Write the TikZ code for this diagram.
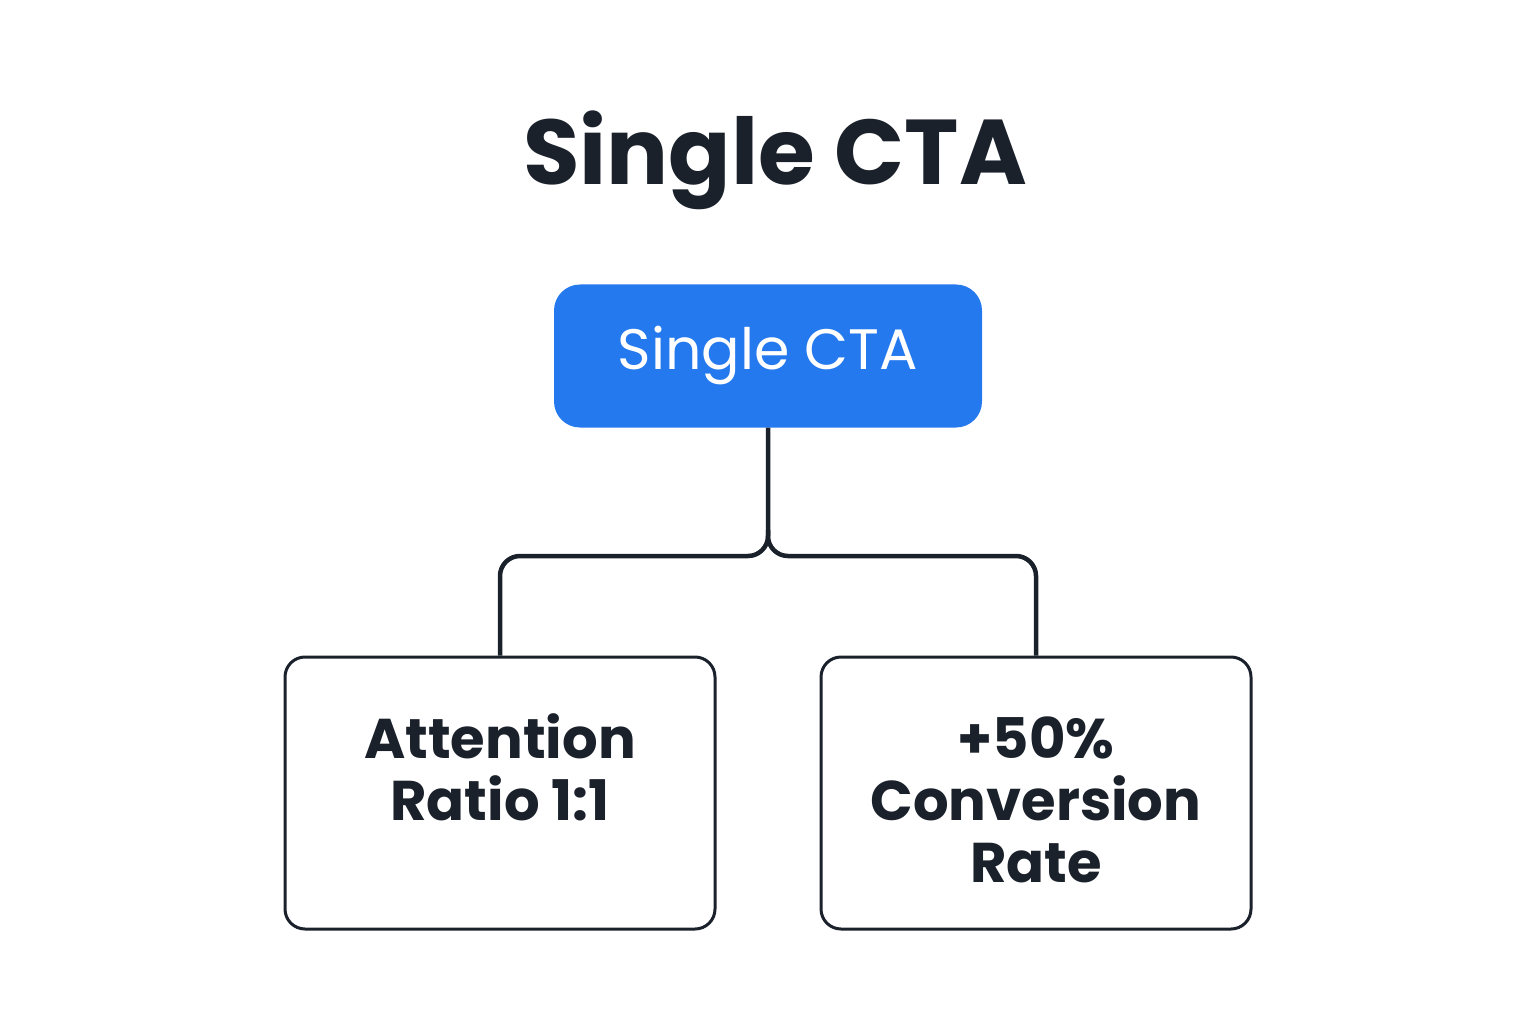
\documentclass[tikz,border=0pt]{standalone}
\usepackage{fontspec}
\setmainfont{Poppins}
\definecolor{ink}{HTML}{1B212B}
\definecolor{blu}{HTML}{2479EE}
\begin{document}
\begin{tikzpicture}[x=1pt,y=-1pt,
  card/.style={draw=ink,line width=3pt,rounded corners=20pt,minimum width=430pt,minimum height=272pt,inner sep=0pt},
  lbl/.style={text=ink,font=\fontsize{56}{64}\selectfont\bfseries,align=center},
  conn/.style={draw=ink,line width=4.5pt,rounded corners=20pt}]
\useasboundingbox (0,0) rectangle (1536,1024);
\node[text=ink,font=\fontsize{92}{100}\selectfont\bfseries] (title) at (775,160) {Single CTA};
\node[fill=blu,rounded corners=26pt,minimum width=428pt,minimum height=143pt,text=white,font=\fontsize{57}{66}\selectfont] (top) at (768,356) {Single CTA};
\node[card] (l) at (500,793) {};
\node[card] (r) at (1036,793) {};
\node[lbl] (lt) at (500,767) {Attention\\[-2pt]Ratio 1:1};
\node[lbl] (rt) at (1036,800) {+50\%\\[-2pt]Conversion\\[-2pt]Rate};
\draw[conn] (top.south) -- (768,556) -| (l.north);
\draw[conn] (768,530) -- (768,556) -| (r.north);
\end{tikzpicture}
\end{document}
